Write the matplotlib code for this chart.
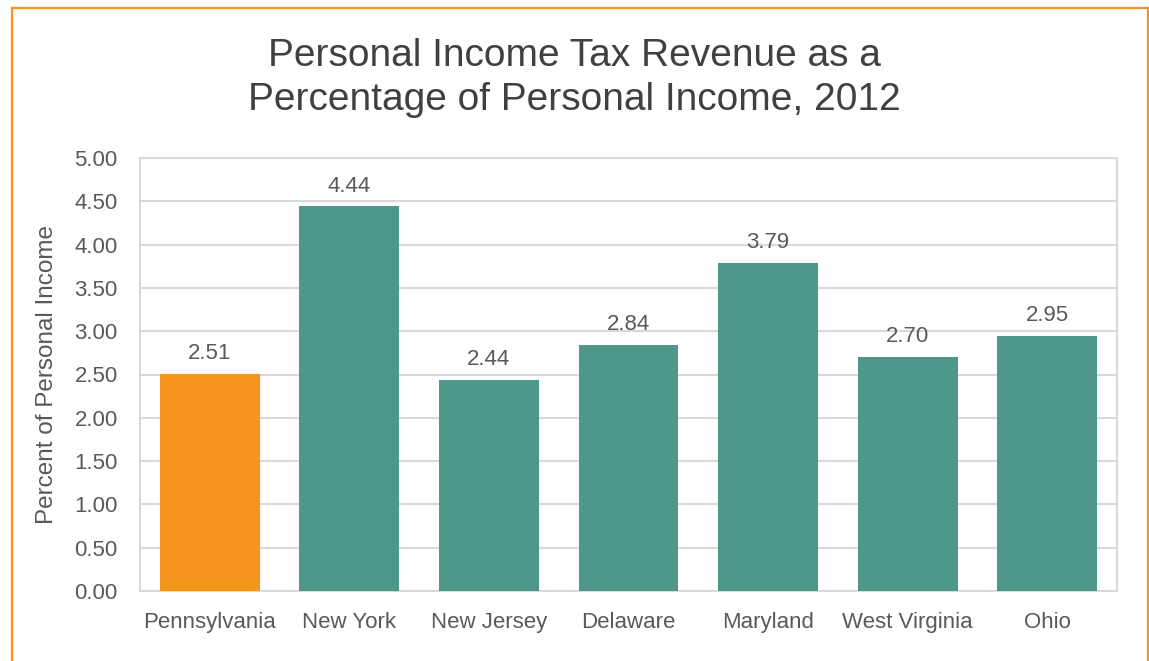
import matplotlib
matplotlib.use("Agg")
import matplotlib.pyplot as plt
from matplotlib.lines import Line2D

states = ["Pennsylvania", "New York", "New Jersey", "Delaware", "Maryland", "West Virginia", "Ohio"]
values = [2.51, 4.44, 2.44, 2.84, 3.79, 2.70, 2.95]
bar_colors = ["#F7941D", "#4E978A", "#4E978A", "#4E978A", "#4E978A", "#4E978A", "#4E978A"]
yticks = [0.0, 0.5, 1.0, 1.5, 2.0, 2.5, 3.0, 3.5, 4.0, 4.5, 5.0]

plt.rcParams['font.family'] = ['Liberation Sans', 'DejaVu Sans']
text_color = "#595959"
grid_color = "#D9D9D9"

W, H = 1149, 661
fig = plt.figure(figsize=(W / 100, H / 100), dpi=100)
ax = fig.add_axes([140 / W, 1 - 591 / H, (1117 - 140) / W, (591 - 158) / H])

x = list(range(len(states)))
ax.bar(x, values, width=0.716, color=bar_colors, zorder=3)
for xi, v in zip(x, values):
    ax.annotate(f"{v:.2f}", (xi, v), xytext=(0, 7), textcoords="offset points",
                ha="center", va="bottom", fontsize=16, color=text_color)

ax.set_xlim(-0.5, len(states) - 0.5)
ax.set_ylim(0, 5.0)
ax.set_yticks(yticks)
ax.set_yticklabels([f"{t:.2f}" for t in yticks], fontsize=16, color=text_color)
ax.set_xticks(x)
ax.set_xticklabels(states, fontsize=16, color=text_color)
ax.tick_params(axis="x", length=0, pad=15)
ax.tick_params(axis="y", length=0, pad=16)
ax.yaxis.grid(True, color=grid_color, linewidth=1.5, zorder=0)
for s in ax.spines.values():
    s.set_color(grid_color)
    s.set_linewidth(1.5)
ax.set_ylabel("Percent of Personal Income", fontsize=17.5, color=text_color)
ax.yaxis.set_label_coords(-82 / (1117 - 140), 0.5)

fig.text(0.5, 1 - 78 / H, "Personal Income Tax Revenue as a\nPercentage of Personal Income, 2012",
         ha="center", va="center", fontsize=28, color="#404040", linespacing=1.3)

orange = "#F7941D"
fig.add_artist(Line2D([11.5 / W, 11.5 / W], [0, 1 - 8 / H], transform=fig.transFigure, color=orange, linewidth=1.6))
fig.add_artist(Line2D([11.5 / W, 1147.5 / W], [1 - 8 / H, 1 - 8 / H], transform=fig.transFigure, color=orange, linewidth=1.6))
fig.add_artist(Line2D([1147.5 / W, 1147.5 / W], [0, 1 - 8 / H], transform=fig.transFigure, color=orange, linewidth=1.6))

fig.savefig("out.png", dpi=100)
